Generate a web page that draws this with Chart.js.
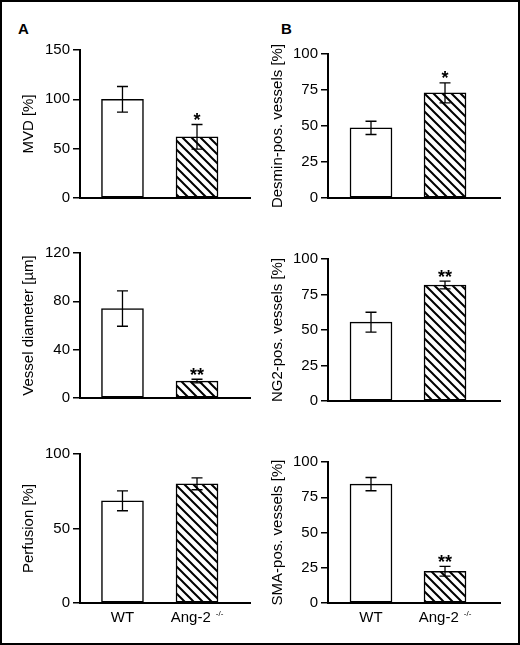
<!DOCTYPE html>
<html>
<head>
<meta charset="utf-8">
<script src="https://cdn.jsdelivr.net/npm/chart.js@4/dist/chart.umd.min.js"></script>
<style>
  body { margin: 0; background: #fff; }
  #fig { position: relative; width: 520px; height: 645px; border: 2px solid #000; box-sizing: border-box; background: #fff; }
  #fig canvas { position: absolute; }
  .panel-letter { position: absolute; font: bold 15px "Liberation Sans", Arial, Helvetica, sans-serif; line-height: 15px; color: #000; }
</style>
</head>
<body>
<div id="fig">
  <div class="panel-letter" style="left:16px; top:19px;">A</div>
  <div class="panel-letter" style="left:279px; top:19px;">B</div>
</div>
<script>
// values
var groups = ['WT', 'Ang-2'];
var groupSup = ['', '-/-'];
var yTitles = ['MVD [%]', 'Vessel diameter [µm]', 'Perfusion [%]',
               'Desmin-pos. vessels [%]', 'NG2-pos. vessels [%]', 'SMA-pos. vessels [%]'];
var wtMeans   = [100, 74, 68.6, 48.7, 55.5, 84.3];
var wtErrors  = [13, 14.6, 6.7, 4.6, 7, 4.7];
var angMeans  = [62, 14, 80, 73, 81.7, 22.5];
var angErrors = [12.5, 1.5, 4, 7, 2.7, 3.5];
var stars     = ['*', '**', '', '*', '**', '**'];
var yMax      = [150, 120, 100, 100, 100, 100];
var yStep     = [50, 40, 50, 25, 25, 25];

var FONT = '"Liberation Sans", Arial, Helvetica, sans-serif';

// where each panel sits on the page (canvas box + plot area)
var layouts = [
  { cx: 3,   cy: 3,   w: 254, h: 207, l: 80,  t: 50,  r: 250, b: 199, yw: 60, xMin: -0.570, xMax: 1.711, labels: false },
  { cx: 3,   cy: 212, w: 254, h: 206, l: 80,  t: 253, r: 250, b: 398, yw: 60, xMin: -0.570, xMax: 1.711, labels: false },
  { cx: 3,   cy: 420, w: 254, h: 222, l: 80,  t: 454, r: 250, b: 603, yw: 60, xMin: -0.570, xMax: 1.711, labels: true },
  { cx: 262, cy: 3,   w: 254, h: 207, l: 328, t: 54,  r: 500, b: 199, yw: 59, xMin: -0.581, xMax: 1.743, labels: false },
  { cx: 262, cy: 212, w: 254, h: 206, l: 328, t: 259, r: 500, b: 401, yw: 59, xMin: -0.581, xMax: 1.743, labels: false },
  { cx: 262, cy: 420, w: 254, h: 222, l: 328, t: 462, r: 500, b: 603, yw: 59, xMin: -0.581, xMax: 1.743, labels: true }
];
var X_AXIS_H = 4;

function makeHatch() {
  var c = document.createElement('canvas');
  c.width = 9; c.height = 9;
  var g = c.getContext('2d');
  g.fillStyle = '#fff';
  g.fillRect(0, 0, 9, 9);
  g.strokeStyle = '#000';
  g.lineWidth = 2;
  g.beginPath();
  g.moveTo(-2, -2); g.lineTo(11, 11);
  g.moveTo(-2, 7);  g.lineTo(2, 11);
  g.moveTo(7, -2);  g.lineTo(11, 2);
  g.stroke();
  return g.createPattern(c, 'repeat');
}

// error bars, significance stars and the bottom category labels
var extrasPlugin = {
  id: 'extras',
  afterDatasetsDraw: function (chart, args, o) {
    var ctx = chart.ctx, xs = chart.scales.x, ys = chart.scales.y;
    ctx.save();
    ctx.strokeStyle = '#000';
    ctx.fillStyle = '#000';
    ctx.lineWidth = 1.3;
    for (var i = 0; i < o.means.length; i++) {
      var x = xs.getPixelForValue(i);
      var yHi = ys.getPixelForValue(o.means[i] + o.errs[i]);
      var yLo = ys.getPixelForValue(o.means[i] - o.errs[i]);
      ctx.beginPath();
      ctx.moveTo(x, yHi); ctx.lineTo(x, yLo);
      ctx.moveTo(x - 5.5, yHi); ctx.lineTo(x + 5.5, yHi);
      ctx.moveTo(x - 5.5, yLo); ctx.lineTo(x + 5.5, yLo);
      ctx.stroke();
      if (i == 1 && o.star) {
        ctx.font = 'bold 18px ' + FONT;
        ctx.textAlign = 'center';
        ctx.textBaseline = 'alphabetic';
        var m = ctx.measureText(o.star);
        var centre = yHi - 8;
        ctx.fillText(o.star, x, centre + (m.actualBoundingBoxAscent - m.actualBoundingBoxDescent) / 2);
      }
    }
    if (o.labels) {
      var yText = ys.getPixelForValue(0) + 15;
      for (var j = 0; j < groups.length; j++) {
        var cx = xs.getPixelForValue(j);
        ctx.textBaseline = 'middle';
        ctx.font = '15px ' + FONT;
        var mainW = ctx.measureText(groups[j]).width;
        var gap = groupSup[j] ? 5 : 0;
        ctx.font = '8px ' + FONT;
        var supW = groupSup[j] ? ctx.measureText(groupSup[j]).width : 0;
        var x0 = cx - (mainW + gap + supW) / 2;
        ctx.textAlign = 'left';
        ctx.font = '15px ' + FONT;
        ctx.fillText(groups[j], x0, yText);
        if (groupSup[j]) {
          ctx.font = '8px ' + FONT;
          ctx.fillText(groupSup[j], x0 + mainW + gap, yText - 4);
        }
      }
    }
    ctx.restore();
  }
};

var hatch = makeHatch();
var fig = document.getElementById('fig');

layouts.forEach(function (L, k) {
  var cv = document.createElement('canvas');
  cv.width = L.w; cv.height = L.h;
  cv.style.left = (L.cx - 2) + 'px';
  cv.style.top = (L.cy - 2) + 'px';
  fig.appendChild(cv);

  new Chart(cv, {
    type: 'bar',
    data: {
      datasets: [{
        data: [{ x: 0, y: wtMeans[k] }, { x: 1, y: angMeans[k] }],
        backgroundColor: ['#ffffff', hatch],
        borderColor: '#000',
        borderWidth: 1.5,
        borderSkipped: false,
        barThickness: 42
      }]
    },
    options: {
      responsive: false,
      animation: false,
      events: [],
      layout: {
        padding: {
          left: L.l - L.yw - L.cx,
          right: L.cx + L.w - L.r,
          top: L.t - L.cy,
          bottom: L.cy + L.h - L.b - X_AXIS_H
        }
      },
      plugins: {
        legend: { display: false },
        tooltip: { enabled: false },
        extras: {
          means: [wtMeans[k], angMeans[k]],
          errs: [wtErrors[k], angErrors[k]],
          star: stars[k],
          labels: L.labels
        }
      },
      scales: {
        x: {
          type: 'linear',
          offset: false,
          min: L.xMin, max: L.xMax,
          ticks: { display: false },
          grid: { display: false, offset: false },
          border: { display: true, color: '#000', width: 2 },
          afterFit: function (s) { s.height = X_AXIS_H; }
        },
        y: {
          min: 0, max: yMax[k],
          ticks: { stepSize: yStep[k], color: '#000', padding: 3, font: { family: FONT, size: 15 } },
          grid: { display: true, drawOnChartArea: false, drawTicks: true, tickLength: 7, color: '#000', lineWidth: 1.5 },
          border: { display: true, color: '#000', width: 2 },
          title: { display: true, text: yTitles[k], color: '#000', padding: 0, font: { family: FONT, size: 15 } },
          afterFit: function (s) { s.width = L.yw; }
        }
      }
    },
    plugins: [extrasPlugin]
  });
});
</script>
</body>
</html>
